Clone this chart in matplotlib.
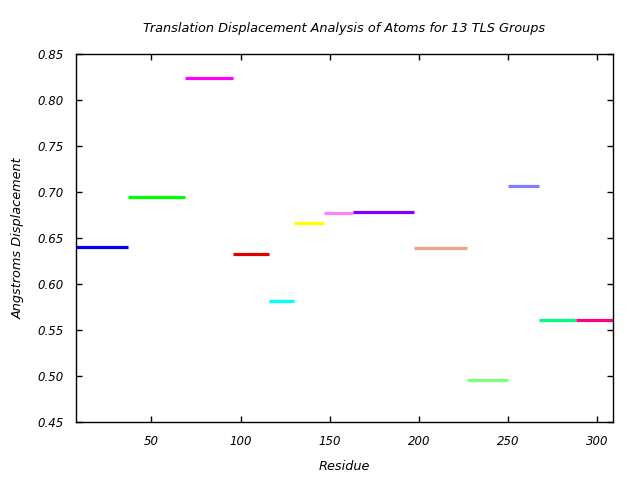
import matplotlib
matplotlib.use("Agg")
import matplotlib.pyplot as plt

# TLS group residue ranges and mean translation displacement
group_start = [8, 37, 69, 96, 116, 130, 147, 163, 197, 227, 250, 267, 288]
group_end = [37, 69, 96, 116, 130, 147, 163, 197, 227, 250, 267, 288, 309]
displacement = [0.640, 0.695, 0.824, 0.633, 0.581, 0.666, 0.677, 0.678,
                0.639, 0.496, 0.706, 0.561, 0.561]
group_colors = ["#0000ff", "#00ff00", "#ff00ff", "#e00000", "#00ffff",
                "#ffff00", "#ff80ff", "#8000ff", "#f4a088", "#80ff80",
                "#8080ff", "#00ff80", "#ff0080"]

x_ticks = [50, 100, 150, 200, 250, 300]
y_ticks = [0.45, 0.50, 0.55, 0.60, 0.65, 0.70, 0.75, 0.80, 0.85]

plt.rcParams["font.family"] = ["DejaVu Sans"]
plt.rcParams["font.style"] = "italic"

fig = plt.figure(figsize=(6.4, 4.8), dpi=100)
ax = fig.add_axes([0.1188, 0.1208, 0.839, 0.7667])

for x0, x1, y, c in zip(group_start, group_end, displacement, group_colors):
    ax.plot([x0, x1], [y, y], color=c, linewidth=2.3, solid_capstyle="butt")

ax.set_xlim(7.8, 308.7)
ax.set_ylim(0.45, 0.85)
ax.set_xticks(x_ticks)
ax.set_yticks(y_ticks)
ax.set_yticklabels([f"{v:.2f}" for v in y_ticks])
ax.tick_params(direction="in", length=4, width=1, top=True, right=True,
               labelsize=8.5, pad=9)

for s in ax.spines.values():
    s.set_linewidth(1)

ax.set_title("Translation Displacement Analysis of Atoms for 13 TLS Groups",
             fontsize=9.3, pad=16)
ax.set_xlabel("Residue", fontsize=9.3, labelpad=9)
ax.set_ylabel("Angstroms Displacement", fontsize=9.3, labelpad=9)

fig.savefig("out.png", dpi=100)
